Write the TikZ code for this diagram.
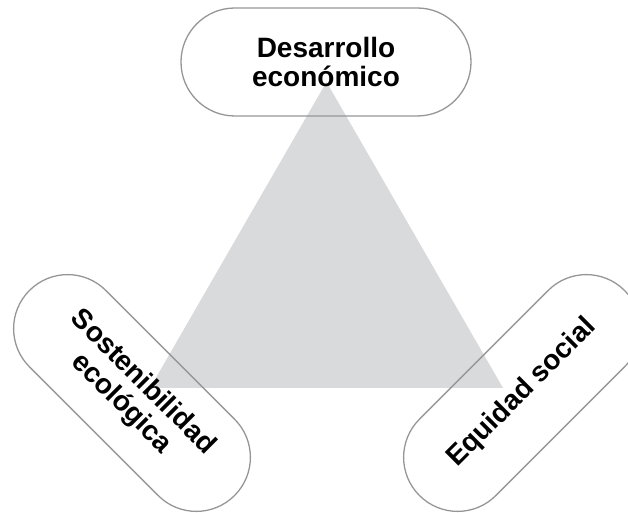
\documentclass[tikz,border=0pt]{standalone}
\usepackage{fontspec}
\setmainfont{Liberation Sans}
\usepackage{tikz}
\usetikzlibrary{arrows.meta}

\definecolor{trigray}{RGB}{217,218,220}
\definecolor{pillgray}{RGB}{150,150,150}

\begin{document}
\begin{tikzpicture}[x=1pt,y=1pt,
	pill/.style={draw=pillgray, line width=1.3pt, rounded corners=53.9pt,
		minimum width=290pt, minimum height=108pt, inner sep=0pt,
		align=center, font=\bfseries\fontsize{28}{30}\selectfont}]
				\useasboundingbox (0,0) rectangle (628,513);
				\fill[trigray] (150,125) -- (503,125) -- (326.5,431) -- cycle;
				\node[pill] (desarrollo) at (326,451) {Desarrollo\\económico};
				\node[pill, rotate=-45] (sostenibilidad) at (132,120) {Sostenibilidad\\ecológica};
				\node[pill, rotate=45] (equidad) at (522,120) {Equidad social};
				\end{tikzpicture}
\end{document}
